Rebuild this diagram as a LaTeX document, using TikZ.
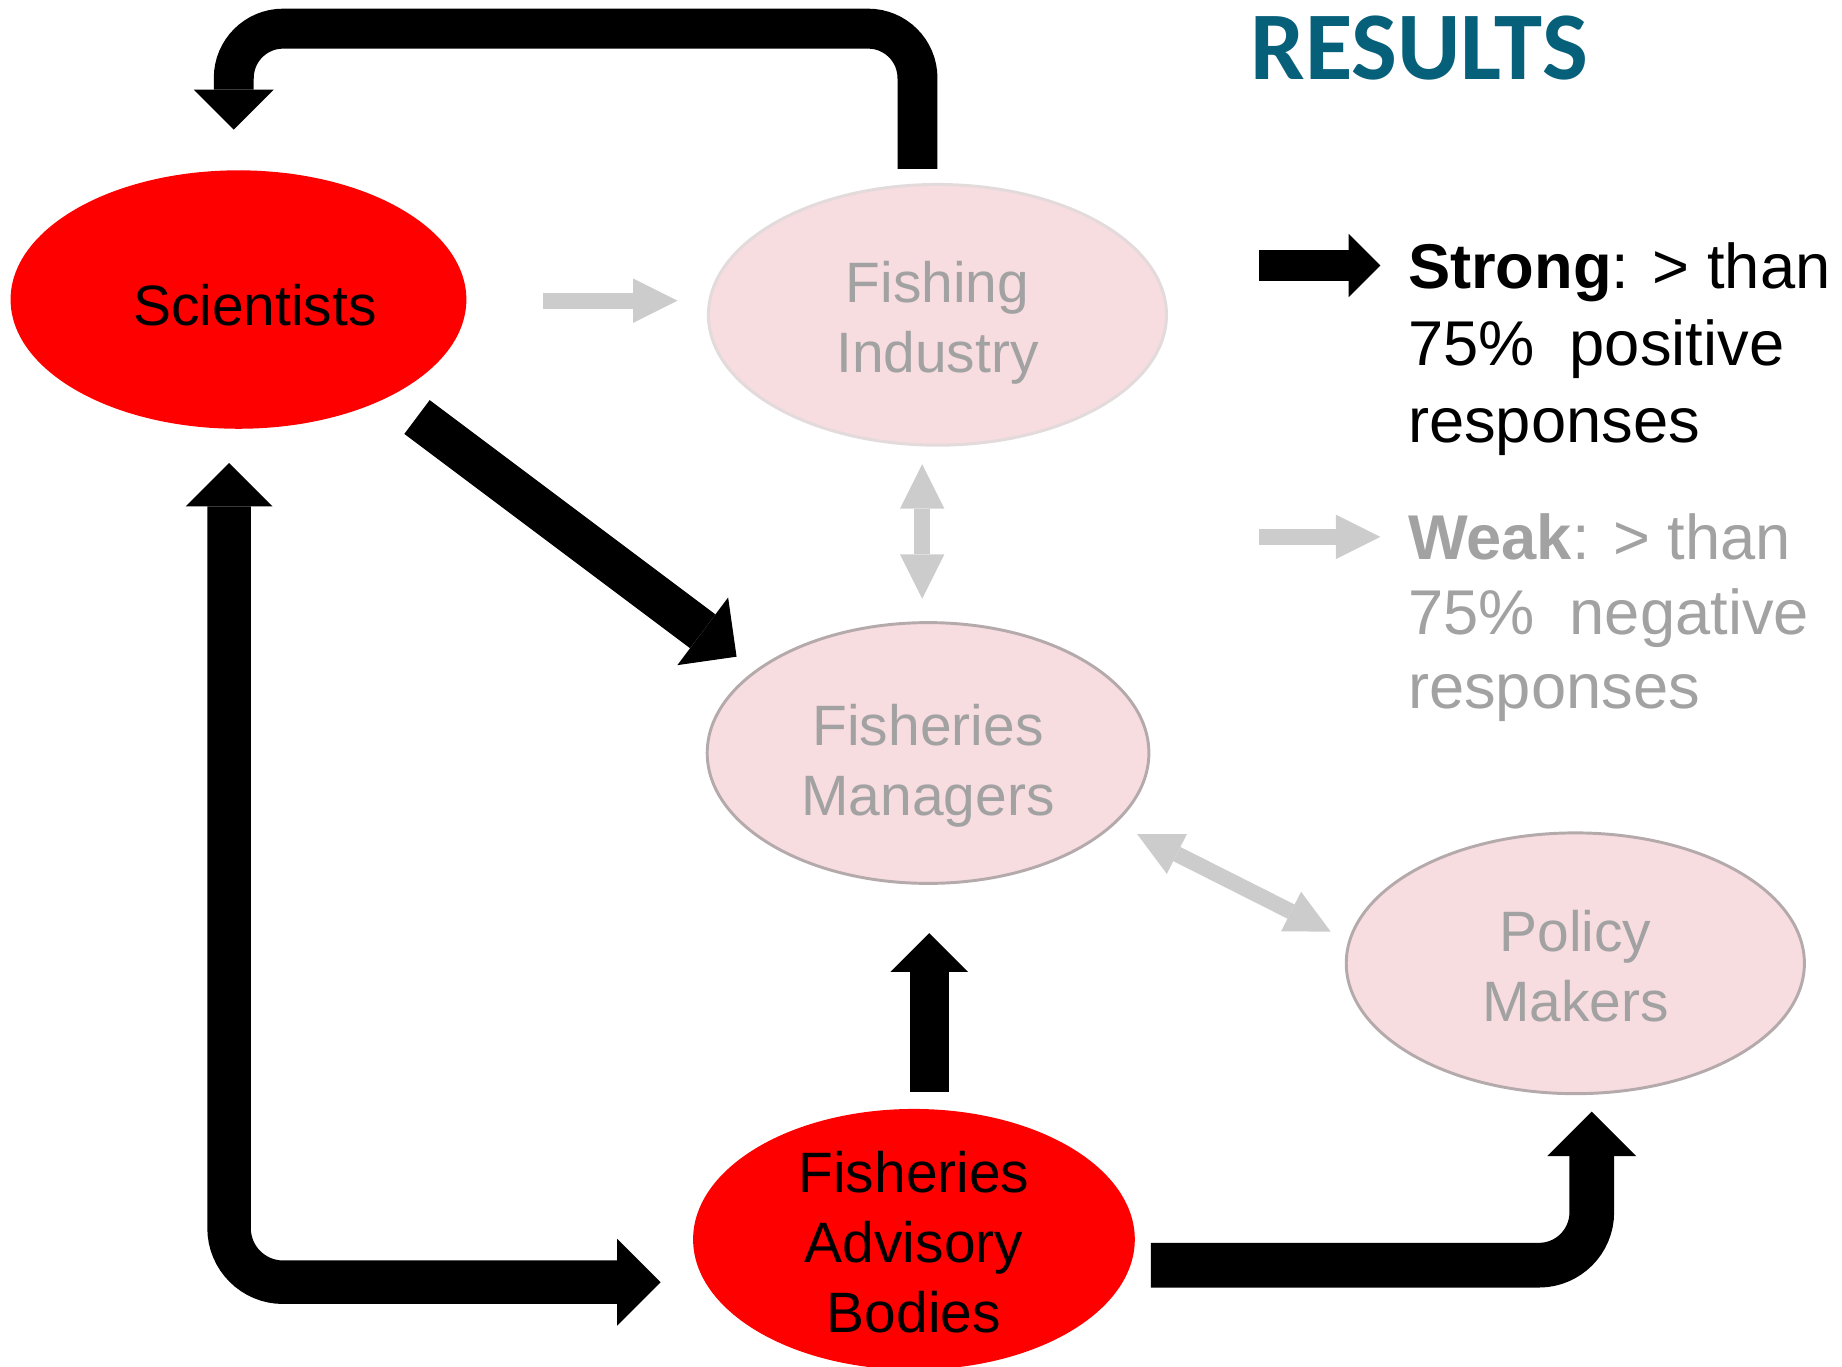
\documentclass[tikz,border=0pt]{standalone}
\usepackage{fontspec}
\setmainfont{Liberation Sans}
\newfontfamily\calibfont{Carlito}
\usetikzlibrary{arrows.meta,calc,shapes.geometric}
\newlength\unitpx
\setlength\unitpx{0.11747mm}
\definecolor{keyred}{HTML}{FF0000}
\definecolor{minorpink}{HTML}{F7DCE0}
\definecolor{minorline}{HTML}{B4AAAC}
\definecolor{lightline}{HTML}{E2DADB}
\definecolor{minortext}{HTML}{A2A2A2}
\definecolor{weakgray}{HTML}{CCCCCC}
\definecolor{titleteal}{HTML}{07607A}
\begin{document}
\begin{tikzpicture}[x=0.11747mm, y=-0.11747mm,
  nodefont/.style={font=\fontsize{16.2}{20}\selectfont},
  keynode/.style={ellipse, inner sep=0pt, fill=keyred, draw=none},
  minornode/.style={ellipse, inner sep=0pt, fill=minorpink, draw=minorline, line width=2.5*\unitpx},
  keytext/.style={nodefont, inner sep=0pt, align=center, text=black},
  minortextstyle/.style={nodefont, inner sep=0pt, align=center, text=minortext},
  strong/.style={draw=black, line width=#1*\unitpx, >={Triangle[length=0pt 1, width=0pt 2, line width=0pt]}},
  weak/.style={draw=weakgray, line width=13.5*\unitpx, >={Triangle[length=0pt 2.8, width=0pt 2.8, line width=0pt]}},
  legfont/.style={font=\fontsize{18}{21.7}\selectfont, anchor=base west, inner sep=0pt},
]
\useasboundingbox (0,0) rectangle (1568,1163);

% nodes
\node[keynode, minimum width=388*\unitpx, minimum height=220*\unitpx,
  label={[keytext, xshift=14*\unitpx, yshift=-5*\unitpx]center:Scientists}] (sci) at (203,255) {};
\node[minornode, draw=lightline, minimum width=390*\unitpx, minimum height=222*\unitpx,
  label={[minortextstyle, yshift=-7*\unitpx]center:{Fishing\\Industry}}] (fi) at (798,268) {};
\node[minornode, minimum width=376*\unitpx, minimum height=222*\unitpx,
  label={[minortextstyle, yshift=-11*\unitpx]center:{Fisheries\\Managers}}] (fm) at (790,641) {};
\node[minornode, minimum width=390*\unitpx, minimum height=222*\unitpx,
  label={[minortextstyle, yshift=-2.5*\unitpx]center:{Policy\\Makers}}] (pm) at (1341,820) {};
\node[keynode, minimum width=376*\unitpx, minimum height=222*\unitpx,
  label={[keytext, yshift=-2.5*\unitpx]center:{Fisheries\\Advisory\\Bodies}}] (fab) at (778,1055) {};

% title
\node[anchor=base west, inner sep=0pt, text=titleteal, font=\calibfont\bfseries\fontsize{27.6}{30}\selectfont] (title) at (1064,68) {RESULTS};

% legend
\coordinate (sA) at (1072,226);
\coordinate (sB) at (1175,226);
\coordinate (wA) at (1072,457);
\coordinate (wB) at (1175,457);
\draw[strong=27, ->] (sA) -- (sB);
\draw[weak, ->] (wA) -- (wB);
\node[legfont] (s1) at (1198,246) {\textbf{Strong}: > than};
\node[legfont] (s2) at (1198,311.5) {75\%~ positive};
\node[legfont] (s3) at (1198,376.5) {responses};
\node[legfont, text=minortext] (w1) at (1198,476) {\textbf{Weak}: > than};
\node[legfont, text=minortext] (w2) at (1198,540) {75\%~ negative};
\node[legfont, text=minortext] (w3) at (1198,603) {responses};

% strong connectors
\draw[strong=34, ->, rounded corners=42*\unitpx] ($(fi.north)+(-17,-12)$) |- ($(sci.north)+(-4,-120)$) -- ($(sci.north)+(-4,-34)$);
\draw[strong=36, ->] ($(sci.center)+(152,100)$) -- ($(fm.center)+(-163,-82)$);
\draw[strong=33, ->] ($(fab.north)+(13,-14)$) -- ($(fm.south)+(1,41)$);
\draw[strong=38, ->, rounded corners=45*\unitpx] ($(fab.east)+(13,22)$) -| ($(pm.south)+(14,14)$);
\draw[strong=37, <->, rounded corners=46*\unitpx] ($(sci.south)+(-8,28.5)$) |- ($(fab.west)+(-27,36.5)$);

% weak connectors
\draw[weak, ->] ($(sci.east)+(65,1)$) -- ($(fi.west)+(-25,-12)$);
\draw[weak, <->] ($(fi.south)+(-13,15)$) -- ($(fm.north)+(-5,-19)$);
\draw[weak, <->] ($(fm.center)+(178,69)$) -- ($(pm.west)+(-12,-27)$);
\end{tikzpicture}
\end{document}
